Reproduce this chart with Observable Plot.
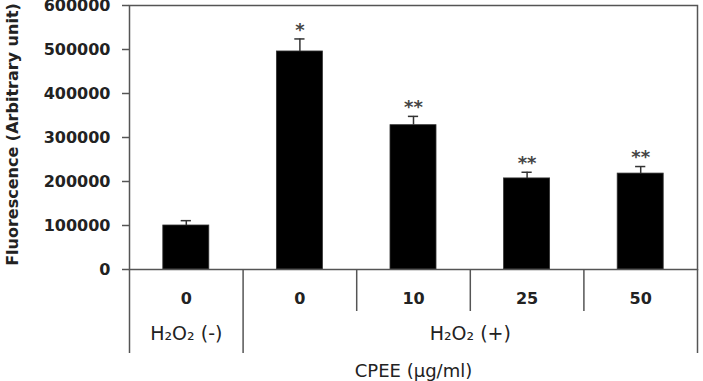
<!DOCTYPE html>
<html>
<head>
<meta charset="utf-8">
<script src="https://cdn.jsdelivr.net/npm/d3@7"></script>
<script src="https://cdn.jsdelivr.net/npm/@observablehq/plot@0.6"></script>
<style>
  body { margin: 0; background: #fff; }
</style>
</head>
<body>
<div id="chart"></div>
<script>
// CPEE dose per bar, and the H2O2 treatment group it belongs to
const doses = ["0", "0", "10", "25", "50"];
const treatment = ["H₂O₂ (-)", "H₂O₂ (+)", "H₂O₂ (+)", "H₂O₂ (+)", "H₂O₂ (+)"];
// Mean fluorescence and upper error (SD)
const means = [100000, 495500, 328000, 207000, 218000];
const errors = [11000, 28500, 20000, 14000, 16000];
// Significance marks
const signif = ["", "*", "**", "**", "**"];
const yTicks = [0, 100000, 200000, 300000, 400000, 500000, 600000];

const rows = doses.map((dose, i) => ({
  i, dose, group: treatment[i], mean: means[i], top: means[i] + errors[i], mark: signif[i]
}));

// Spans of the treatment groups, in category units
const groups = [];
rows.forEach((r) => {
  const last = groups[groups.length - 1];
  if (last && last.label === r.group) last.end = r.i + 1;
  else groups.push({label: r.group, start: r.i, end: r.i + 1});
});
const longBounds = [...new Set(groups.flatMap((g) => [g.start, g.end]))];
const shortBounds = d3.range(1, rows.length).filter((b) => !longBounds.includes(b));

const barHalf = 0.2025;  // half bar width, in category units
const capHalf = 0.045;   // half error-bar cap width
const lineColor = "#555";

const chart = Plot.plot({
  width: 703,
  height: 381,
  marginLeft: 129,
  marginRight: 6,
  marginTop: 5,
  marginBottom: 112,
  style: {fontFamily: "DejaVu Sans", fontSize: "16px", fontWeight: "bold", color: "#222", background: "#fff"},
  x: {domain: [0, rows.length], axis: null},
  y: {domain: [0, 600000], axis: null},
  marks: [
    Plot.rect(rows, {
      x1: (d) => d.i + 0.5 - barHalf,
      x2: (d) => d.i + 0.5 + barHalf,
      y1: 0,
      y2: "mean",
      fill: "#000",
      stroke: "#333",
      strokeWidth: 0.8
    }),
    // error bars
    Plot.ruleX(rows, {x: (d) => d.i + 0.5, y1: "mean", y2: "top", stroke: "#333", strokeWidth: 1.5}),
    Plot.ruleY(rows, {
      y: "top",
      x1: (d) => d.i + 0.5 - capHalf,
      x2: (d) => d.i + 0.5 + capHalf,
      stroke: "#333",
      strokeWidth: 1.5
    }),
    Plot.text(rows, {
      x: (d) => d.i + 0.5,
      y: "top",
      text: "mark",
      dy: -9,
      fill: "#444",
      fontSize: 18,
      fontWeight: "bold"
    }),
    Plot.frame({stroke: lineColor, strokeWidth: 1.5}),
    Plot.axisY({
      ticks: yTicks,
      tickSize: 7,
      tickPadding: 12,
      tickFormat: (d) => String(d),
      stroke: lineColor,
      strokeWidth: 1.5,
      fill: "#222",
      label: null
    }),
    // table dividers below the axis
    Plot.ruleX(longBounds, {x: (d) => d, y1: 0, y2: 0, insetBottom: -84, stroke: lineColor, strokeWidth: 1.5}),
    Plot.ruleX(shortBounds, {x: (d) => d, y1: 0, y2: 0, insetBottom: -42, stroke: lineColor, strokeWidth: 1.5}),
    // dose labels
    Plot.text(rows, {
      x: (d) => d.i + 0.5,
      text: "dose",
      frameAnchor: "bottom",
      lineAnchor: "middle",
      dy: 29,
      fill: "#222",
      fontWeight: "bold"
    }),
    // treatment group labels
    Plot.text(groups, {
      x: (d) => (d.start + d.end) / 2,
      text: "label",
      frameAnchor: "bottom",
      lineAnchor: "middle",
      dy: 64,
      fill: "#222",
      fontWeight: "normal",
      fontSize: 19
    }),
    Plot.text(["CPEE (µg/ml)"], {
      frameAnchor: "bottom",
      lineAnchor: "middle",
      dy: 102,
      fill: "#222",
      fontWeight: "normal",
      fontSize: 18
    }),
    Plot.text(["Fluorescence (Arbitrary unit)"], {
      frameAnchor: "left",
      textAnchor: "middle",
      lineAnchor: "middle",
      rotate: -90,
      dx: -117,
      dy: -3,
      fill: "#222",
      fontWeight: "bold",
      fontSize: 16
    })
  ]
});

document.getElementById("chart").appendChild(chart);
</script>
</body>
</html>
